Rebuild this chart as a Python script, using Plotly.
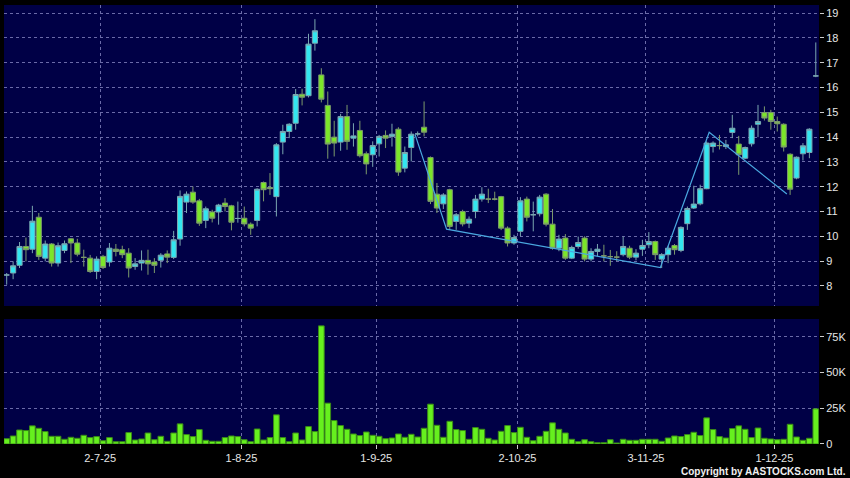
import plotly.graph_objects as go

# ---- data ----
opens = [8.44, 8.52, 8.83, 9.59, 9.48, 10.77, 9.12, 9.69, 8.92, 9.43,
         9.90, 9.73, 9.15, 9.12, 8.58, 9.19, 8.96, 9.48, 9.46, 9.32,
         8.78, 8.92, 9.03, 8.96, 9.03, 9.29, 9.15, 9.89, 11.38, 11.78,
         11.43, 10.64, 10.98, 10.98, 11.34, 11.23, 10.72, 10.73, 10.49, 10.64,
         12.17, 11.97, 11.60, 13.80, 14.23, 14.56, 15.73, 15.67, 17.79, 16.51,
         15.28, 14.00, 13.80, 14.83, 13.96, 14.27, 13.33, 13.29, 13.73, 14.07,
         14.03, 14.32, 12.75, 13.58, 14.13, 14.40, 13.18, 11.70, 11.31, 11.88,
         10.60, 11.00, 10.53, 11.00, 11.50, 11.50, 11.50, 11.60, 10.33, 9.73,
         10.20, 11.50, 10.87, 10.91, 11.70, 10.49, 9.52, 9.93, 9.12, 9.59,
         9.93, 9.08, 9.39, 9.21, 9.18, 9.16, 9.26, 9.52, 9.16, 9.48,
         9.66, 9.79, 9.08, 9.26, 9.63, 9.43, 10.51, 11.14, 11.31, 11.92,
         13.62, 13.66, 13.62, 14.19, 13.72, 13.15, 13.73, 14.52, 14.99, 14.99,
         14.63, 14.52, 13.31, 12.35, 13.33, 13.38, 16.47]
highs = [8.52, 8.99, 9.77, 9.95, 11.23, 10.94, 9.83, 9.73, 9.75, 9.83,
         9.93, 9.90, 9.46, 9.25, 9.19, 9.25, 9.73, 9.69, 9.62, 9.52,
         9.12, 9.43, 9.46, 9.12, 9.32, 9.43, 10.22, 11.85, 11.81, 12.01,
         11.51, 11.20, 11.07, 11.31, 11.54, 11.27, 11.40, 11.20, 10.56, 11.94,
         12.21, 12.55, 13.76, 14.50, 14.56, 15.94, 15.95, 18.17, 18.76, 16.78,
         15.84, 14.66, 14.94, 15.30, 14.56, 14.66, 13.42, 13.83, 14.09, 14.27,
         14.54, 14.40, 13.62, 14.23, 14.23, 15.44, 13.22, 12.15, 11.74, 11.92,
         10.94, 11.07, 10.80, 11.67, 11.98, 11.92, 11.80, 11.63, 10.40, 10.06,
         11.58, 11.60, 11.40, 11.67, 11.74, 11.10, 10.06, 10.09, 9.62, 9.99,
         10.00, 9.52, 9.69, 9.66, 9.45, 9.40, 9.99, 9.62, 9.48, 9.86,
         10.17, 9.83, 9.32, 9.62, 9.69, 10.40, 11.20, 12.04, 12.08, 13.83,
         13.83, 14.09, 13.89, 14.90, 14.05, 13.62, 14.47, 15.30, 15.24, 15.10,
         14.83, 14.56, 13.35, 13.22, 13.76, 14.36, 17.82]
lows = [8.05, 8.27, 8.72, 8.99, 9.32, 9.05, 8.99, 8.78, 8.78, 9.32,
        8.92, 9.19, 8.78, 8.52, 8.27, 8.68, 8.78, 9.19, 9.12, 8.34,
        8.65, 8.62, 8.45, 8.52, 8.74, 8.92, 9.08, 9.62, 10.94, 11.31,
        10.42, 10.33, 10.56, 10.47, 11.00, 10.24, 10.55, 10.40, 10.06, 10.40,
        11.41, 11.67, 10.80, 13.31, 13.96, 14.30, 15.28, 15.60, 17.49, 15.40,
        13.13, 13.22, 13.45, 13.49, 13.62, 13.18, 12.50, 12.80, 13.22, 13.56,
        13.62, 12.44, 12.58, 13.02, 14.03, 14.03, 11.30, 10.94, 11.10, 10.26,
        10.26, 10.40, 10.33, 10.73, 11.40, 11.34, 11.45, 10.25, 9.59, 9.66,
        10.00, 10.60, 10.20, 10.80, 10.40, 9.46, 9.40, 9.05, 9.08, 9.50,
        8.99, 8.99, 9.19, 8.99, 8.81, 9.00, 9.19, 9.08, 9.03, 9.21,
        9.52, 9.05, 8.72, 8.92, 9.26, 9.36, 10.26, 11.10, 11.25, 11.90,
        13.38, 13.50, 13.52, 13.96, 12.48, 13.11, 13.62, 14.00, 14.67, 14.30,
        14.23, 13.42, 11.67, 12.30, 13.06, 13.15, 16.42]
closes = [8.44, 8.81, 9.59, 9.46, 10.61, 9.19, 9.69, 8.92, 9.62, 9.70,
          9.73, 9.28, 9.15, 8.58, 9.08, 8.74, 9.52, 9.39, 9.26, 8.72,
          8.89, 9.03, 8.89, 8.83, 9.24, 9.16, 9.86, 11.61, 11.70, 11.38,
          10.53, 11.11, 10.73, 11.26, 11.20, 10.57, 10.72, 10.50, 10.33, 11.90,
          11.88, 11.92, 13.69, 14.23, 14.52, 15.72, 15.61, 17.75, 18.29, 15.53,
          13.72, 13.76, 14.83, 13.83, 14.05, 13.25, 12.92, 13.66, 14.03, 13.96,
          14.12, 12.59, 13.38, 14.12, 14.13, 14.20, 11.41, 11.14, 11.67, 10.40,
          10.87, 10.50, 10.69, 11.50, 11.70, 11.50, 11.50, 10.33, 9.73, 9.95,
          11.43, 10.77, 10.87, 11.58, 10.49, 9.52, 9.89, 9.12, 9.55, 9.75,
          9.08, 9.39, 9.48, 9.21, 9.18, 9.16, 9.59, 9.16, 9.32, 9.63,
          9.79, 9.26, 9.26, 9.52, 9.46, 10.36, 11.12, 11.30, 11.92, 13.76,
          13.76, 13.66, 13.69, 14.36, 13.29, 13.58, 14.36, 14.63, 14.77, 14.63,
          14.54, 13.60, 11.90, 13.19, 13.65, 14.32, 16.47]
volumes_k = [3.7, 5.6, 9.8, 9.4, 12.7, 11.0, 8.7, 5.4, 5.4, 3.3,
             4.7, 4.0, 6.1, 4.5, 5.2, 2.3, 4.5, 1.6, 1.6, 8.0,
             2.8, 3.5, 7.7, 3.0, 5.4, 1.9, 7.7, 14.1, 6.6, 5.2,
             10.1, 2.6, 1.9, 1.9, 4.5, 5.6, 5.2, 3.0, 1.6, 10.5,
             2.8, 4.5, 20.4, 4.5, 1.6, 7.7, 2.8, 12.2, 8.7, 82.7,
             28.6, 16.4, 12.9, 10.3, 7.0, 5.9, 8.4, 6.1, 5.4, 3.7,
             4.2, 7.0, 4.7, 6.8, 4.9, 11.0, 27.9, 13.1, 4.7, 15.9,
             10.1, 9.4, 3.3, 11.5, 10.3, 4.0, 2.8, 8.9, 12.9, 8.0,
             11.7, 4.7, 2.3, 5.4, 8.9, 14.8, 10.3, 7.7, 3.3, 1.6,
             3.0, 1.6, 0.9, 0.9, 3.0, 0.7, 3.3, 2.6, 2.6, 3.3,
             3.3, 3.3, 1.9, 4.2, 5.6, 5.2, 6.6, 8.2, 5.9, 18.3,
             10.1, 5.2, 4.2, 10.8, 12.7, 10.3, 4.5, 11.2, 4.0, 3.5,
             3.0, 3.3, 13.8, 4.9, 2.6, 4.0, 24.6]
session = list(range(len(closes)))          # trading-session index

date_labels = ["2-7-25", "1-8-25", "1-9-25", "2-10-25", "3-11-25", "1-12-25"]
date_sessions = [14.55, 36.55, 57.55, 79.55, 99.55, 119.55]

zigzag_session = [63.6, 68.5, 101.8, 109.4, 121.5]
zigzag_price = [14.10, 10.29, 8.74, 14.20, 11.71]

price_ticks = list(range(8, 20))
vol_ticks = [0, 25, 50, 75]
vol_labels = ["0", "25K", "50K", "75K"]

# ---- styling ----
NAVY = "#000046"
GRID = "#6a6aa8"
DASH = "3px,3px"
CYAN = "#33e6f0"
GREEN = "#7ce62a"
VOLG = "#66f01e"
FONT = "Liberation Sans, Arial, sans-serif"

fig = go.Figure()

fig.add_trace(go.Candlestick(
    x=session, open=opens, high=highs, low=lows, close=closes,
    increasing=dict(fillcolor=CYAN, line=dict(color="#7aa6b0", width=1)),
    decreasing=dict(fillcolor=GREEN, line=dict(color="#7c9a6c", width=1)),
    whiskerwidth=0, xaxis="x", yaxis="y", showlegend=False,
))

fig.add_trace(go.Scatter(
    x=zigzag_session, y=zigzag_price, mode="lines",
    line=dict(color="#4aa8e0", width=1.2), xaxis="x", yaxis="y",
    showlegend=False, hoverinfo="skip",
))

fig.add_trace(go.Bar(
    x=session, y=volumes_k, marker=dict(color=VOLG, line=dict(color="#3a8a18", width=1)),
    xaxis="x2", yaxis="y2", showlegend=False,
))

xcommon = dict(
    range=[-0.42, 126.5], tickmode="array", tickvals=date_sessions,
    showgrid=True, gridcolor=GRID, griddash=DASH, gridwidth=1,
    zeroline=False, showline=False, fixedrange=True,
)

fig.update_layout(
    width=850, height=478,
    margin=dict(l=4, r=31, t=5, b=34),
    paper_bgcolor="#000000", plot_bgcolor=NAVY,
    font=dict(family=FONT, size=11, color="#e6e6e6"),
    boxgap=0.2, boxgroupgap=0, bargap=0.12,
    xaxis=dict(**xcommon, domain=[0, 1], anchor="y", showticklabels=False,
               ticks="", rangeslider=dict(visible=False)),
    xaxis2=dict(**xcommon, domain=[0, 1], anchor="y2", matches="x",
                ticktext=date_labels, ticks="outside", ticklen=4,
                tickcolor="#cccccc", tickfont=dict(size=11, color="#e6e6e6")),
    yaxis=dict(domain=[0.3144, 1], range=[7.19, 19.33], side="right",
               tickvals=price_ticks, ticks="outside", ticklen=4, tickcolor="#cccccc",
               showgrid=True, gridcolor=GRID, griddash=DASH, zeroline=False,
               showline=False, fixedrange=True, tickfont=dict(size=11)),
    yaxis2=dict(domain=[0, 0.2847], range=[0, 87.5], side="right",
                tickvals=vol_ticks, ticktext=vol_labels, ticks="outside", ticklen=4,
                tickcolor="#cccccc", showgrid=True, gridcolor=GRID, griddash=DASH,
                zeroline=False, showline=False, fixedrange=True, tickfont=dict(size=11)),
    annotations=[dict(
        text="<b>Copyright by AASTOCKS.com Ltd.</b>", xref="paper", yref="paper",
        x=1.0355, y=-0.062, xanchor="right", yanchor="middle", showarrow=False,
        font=dict(family=FONT, size=10, color="#f0f0f0"),
    )],
)

fig.write_html("out.html", config={"displayModeBar": False},
               post_script="document.body.style.margin='0';")
